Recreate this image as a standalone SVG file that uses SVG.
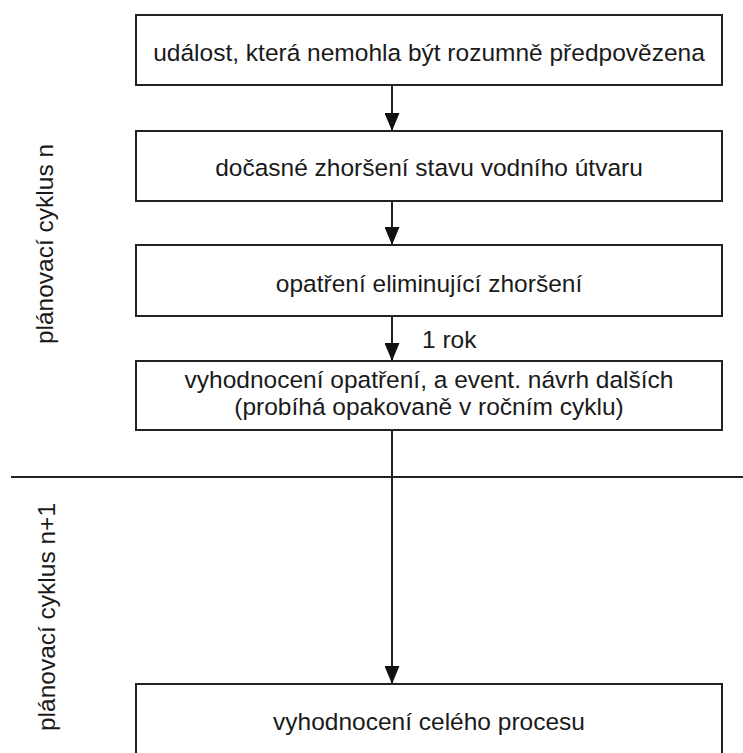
<svg xmlns="http://www.w3.org/2000/svg" width="743" height="753" viewBox="0 0 743 753">
<style>
.box{fill:#fff;stroke:#222;stroke-width:2}
.t{font-family:"Liberation Sans",Arial,sans-serif;font-size:24.5px;fill:#1a1a1a}
.c{text-anchor:middle}
.ln{stroke:#222;stroke-width:2;fill:none}
</style>
<defs>
<marker id="ah" markerWidth="18" markerHeight="15" refX="18" refY="7.5" orient="auto" markerUnits="userSpaceOnUse" viewBox="0 0 18 15">
<path d="M0,0 L18,7.5 L0,15 Z" fill="#111"/>
</marker>
</defs>
<rect width="743" height="753" fill="#fff"/>
<g id="labels">
<text class="t c" transform="translate(53,244) rotate(-90)">plánovací cyklus n</text>
<text class="t c" transform="translate(55,617) rotate(-90)">plánovací cyklus n+1</text>
</g>
<line id="divider" class="ln" x1="11" y1="477" x2="743" y2="477"/>
<g id="connectors">
<line class="ln" x1="392" y1="85" x2="392" y2="131" marker-end="url(#ah)"/>
<line class="ln" x1="392" y1="201" x2="392" y2="245" marker-end="url(#ah)"/>
<line class="ln" x1="392" y1="316" x2="392" y2="361" marker-end="url(#ah)"/>
<line class="ln" x1="392" y1="430" x2="392" y2="684" marker-end="url(#ah)"/>
<text class="t" x="422" y="348">1 rok</text>
</g>
<g id="n1">
<rect class="box" x="136" y="15" width="586" height="70"/>
<text class="t c" x="429" y="61">událost, která nemohla být rozumně předpovězena</text>
</g>
<g id="n2">
<rect class="box" x="136" y="131" width="586" height="70"/>
<text class="t c" x="429" y="176">dočasné zhoršení stavu vodního útvaru</text>
</g>
<g id="n3">
<rect class="box" x="136" y="245" width="586" height="71"/>
<text class="t c" x="429" y="292">opatření eliminující zhoršení</text>
</g>
<g id="n4">
<rect class="box" x="136" y="361" width="586" height="69"/>
<text class="t c" x="429" y="388">vyhodnocení opatření, a event. návrh dalších</text>
<text class="t c" x="429" y="415">(probíhá opakovaně v ročním cyklu)</text>
</g>
<g id="n5">
<rect class="box" x="136" y="684" width="586" height="80"/>
<text class="t c" x="429" y="730">vyhodnocení celého procesu</text>
</g>
</svg>
